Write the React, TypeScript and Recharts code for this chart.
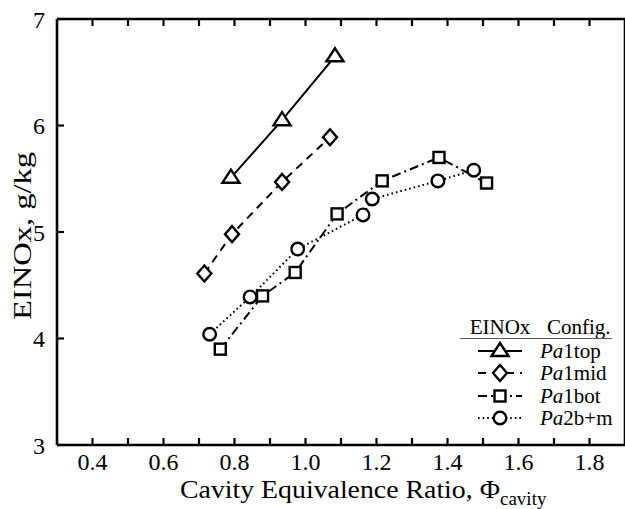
import { LineChart, Line, XAxis, YAxis, Legend } from "recharts";

// values: EINOx (g/kg) vs cavity equivalence ratio
const pa1topPhi = [0.79, 0.934, 1.083];
const pa1topEI = [5.51, 6.05, 6.65];

const pa1midPhi = [0.715, 0.793, 0.934, 1.069];
const pa1midEI = [4.61, 4.98, 5.47, 5.89];

const pa1botPhi = [0.76, 0.879, 0.971, 1.089, 1.216, 1.376, 1.51];
const pa1botEI = [3.9, 4.4, 4.62, 5.17, 5.48, 5.7, 5.46];

const pa2bmPhi = [0.73, 0.844, 0.978, 1.162, 1.188, 1.373, 1.474];
const pa2bmEI = [4.04, 4.39, 4.84, 5.16, 5.31, 5.48, 5.58];

const xTicks = [0.4, 0.5, 0.6, 0.7, 0.8, 0.9, 1.0, 1.1, 1.2, 1.3, 1.4, 1.5, 1.6, 1.7, 1.8];
const yTicks = [3, 4, 5, 6, 7];

const toPoints = (phi: number[], ei: number[]) => phi.map((p, i) => ({ phi: p, ei: ei[i] }));

const FONT = '"Liberation Serif", "Times New Roman", serif';
const SW = 2.4;
const TICK = 7;

const Triangle = ({ cx, cy }: any) => (
  <polygon
    points={`${cx},${cy - 8} ${cx - 8.5},${cy + 5} ${cx + 8.5},${cy + 5}`}
    fill="#fff"
    stroke="#000"
    strokeWidth={SW}
  />
);
const Diamond = ({ cx, cy }: any) => (
  <polygon
    points={`${cx},${cy - 8} ${cx + 7},${cy} ${cx},${cy + 8} ${cx - 7},${cy}`}
    fill="#fff"
    stroke="#000"
    strokeWidth={SW}
  />
);
const Square = ({ cx, cy }: any) => (
  <rect x={cx - 5.5} y={cy - 5.5} width={11} height={11} fill="#fff" stroke="#000" strokeWidth={SW} />
);
const Circle = ({ cx, cy }: any) => (
  <circle cx={cx} cy={cy} r={6.3} fill="#fff" stroke="#000" strokeWidth={SW} />
);

const series = [
  { name: "1top", data: toPoints(pa1topPhi, pa1topEI), dash: undefined, Shape: Triangle },
  { name: "1mid", data: toPoints(pa1midPhi, pa1midEI), dash: "8 6", Shape: Diamond },
  { name: "1bot", data: toPoints(pa1botPhi, pa1botEI), dash: "9 4 2 4", Shape: Square },
  { name: "2b+m", data: toPoints(pa2bmPhi, pa2bmEI), dash: "1.6 3", Shape: Circle },
];

// legend sits inside the plot, lower right
const LEG_X = 455;
const LEG_Y = 305;

const renderLegend = () => {
  const rows = [351, 373, 396, 418];
  return (
    <svg width={170} height={125} style={{ display: "block", overflow: "visible" }}>
      <g transform={`translate(${-LEG_X},${-LEG_Y})`} fontFamily={FONT} fill="#000">
        <text x={500} y={334} fontSize={21} textAnchor="middle">EINOx</text>
        <text x={547} y={334} fontSize={21}>Config.</text>
        <line x1={460} x2={612} y1={338.5} y2={338.5} stroke="#555" strokeWidth={1} />
        {series.map((s, i) => {
          const y = rows[i];
          const Shape = s.Shape;
          return (
            <g key={s.name}>
              <line x1={478} x2={522} y1={y} y2={y} stroke="#000" strokeWidth={2} strokeDasharray={s.dash} />
              <Shape cx={500} cy={y} />
              <text x={540} y={y + 7} fontSize={21}>
                <tspan fontStyle="italic">Pa</tspan>
                {s.name}
              </text>
            </g>
          );
        })}
      </g>
    </svg>
  );
};

const fmtX = (v: number) => (Math.round(v * 10) % 2 === 0 ? v.toFixed(1) : "");

const axisLine = { stroke: "#000", strokeWidth: 2.6 };
const X_MARGIN = 8;
const Y_MARGIN = 12;

// inward ticks, matlab style
const BottomTick = ({ x, y, payload }: any) => {
  const base = y - X_MARGIN;
  return (
    <g>
      <line x1={x} x2={x} y1={base} y2={base - TICK} stroke="#000" strokeWidth={2.2} />
      <text x={x} y={y} dy="0.72em" textAnchor="middle" fontFamily={FONT} fontSize={24} fill="#000">
        {fmtX(payload.value)}
      </text>
    </g>
  );
};
const TopTick = ({ x, y }: any) => (
  <line x1={x} x2={x} y1={y} y2={y + TICK} stroke="#000" strokeWidth={2.2} />
);
const LeftTick = ({ x, y, payload }: any) => {
  const base = x + Y_MARGIN;
  return (
    <g>
      <line x1={base} x2={base + TICK} y1={y} y2={y} stroke="#000" strokeWidth={2.2} />
      <text x={x} y={y} dy="0.36em" textAnchor="end" fontFamily={FONT} fontSize={24} fill="#000">
        {payload.value}
      </text>
    </g>
  );
};
const RightTick = ({ x, y }: any) => (
  <line x1={x} x2={x - TICK} y1={y} y2={y} stroke="#000" strokeWidth={2.2} />
);

export default function App() {
  return (
    <div style={{ position: "absolute", left: 0, top: 0, width: 625, height: 509, overflow: "hidden", background: "#fff" }}>
      <LineChart width={645} height={509} margin={{ top: 18, right: 19, bottom: 0, left: 0 }}>
        <XAxis
          xAxisId="bottom"
          type="number"
          dataKey="phi"
          domain={[0.3, 1.9]}
          ticks={xTicks}
          interval={0}
          height={64}
          tickSize={0}
          tickMargin={X_MARGIN}
          tick={BottomTick}
          axisLine={axisLine}
          tickLine={false}
          allowDataOverflow
          label={{
            content: () => (
              <text x={180} y={498} fontFamily={FONT} fontSize={25} fill="#000">
                <tspan textLength={320} lengthAdjust="spacingAndGlyphs">
                  Cavity Equivalence Ratio, Φ
                </tspan>
                <tspan fontSize={19} dy={7}>cavity</tspan>
              </text>
            ),
          }}
        />
        <XAxis
          xAxisId="top"
          orientation="top"
          type="number"
          dataKey="phi"
          domain={[0.3, 1.9]}
          ticks={xTicks}
          interval={0}
          height={1}
          tickSize={0}
          tickMargin={0}
          tick={TopTick}
          axisLine={axisLine}
          tickLine={false}
          allowDataOverflow
        />
        <YAxis
          yAxisId="left"
          type="number"
          domain={[3, 7]}
          ticks={yTicks}
          interval={0}
          width={57}
          tickSize={0}
          tickMargin={Y_MARGIN}
          tick={LeftTick}
          axisLine={axisLine}
          tickLine={false}
          label={{
            content: () => (
              <text
                x={0}
                y={0}
                transform="translate(31,236) rotate(-90)"
                fontFamily={FONT}
                fontSize={25}
                textAnchor="middle"
                textLength={168}
                lengthAdjust="spacingAndGlyphs"
                fill="#000"
              >
                EINOx, g/kg
              </text>
            ),
          }}
        />
        <YAxis
          yAxisId="right"
          orientation="right"
          type="number"
          domain={[3, 7]}
          ticks={yTicks}
          interval={0}
          width={1}
          tickSize={0}
          tickMargin={0}
          tick={RightTick}
          axisLine={axisLine}
          tickLine={false}
        />
        <Legend
          content={renderLegend}
          layout="vertical"
          align="center"
          verticalAlign="middle"
          wrapperStyle={{ left: LEG_X, top: LEG_Y, width: 170, height: 125 }}
        />
        {series.map((s) => (
          <Line
            key={s.name}
            xAxisId="bottom"
            yAxisId="left"
            data={s.data}
            dataKey="ei"
            type="linear"
            stroke="#000"
            strokeWidth={2}
            strokeDasharray={s.dash}
            dot={(p: any) => <s.Shape key={`${s.name}-${p.index}`} cx={p.cx} cy={p.cy} />}
            activeDot={false}
            isAnimationActive={false}
            legendType="none"
          />
        ))}
      </LineChart>
    </div>
  );
}
